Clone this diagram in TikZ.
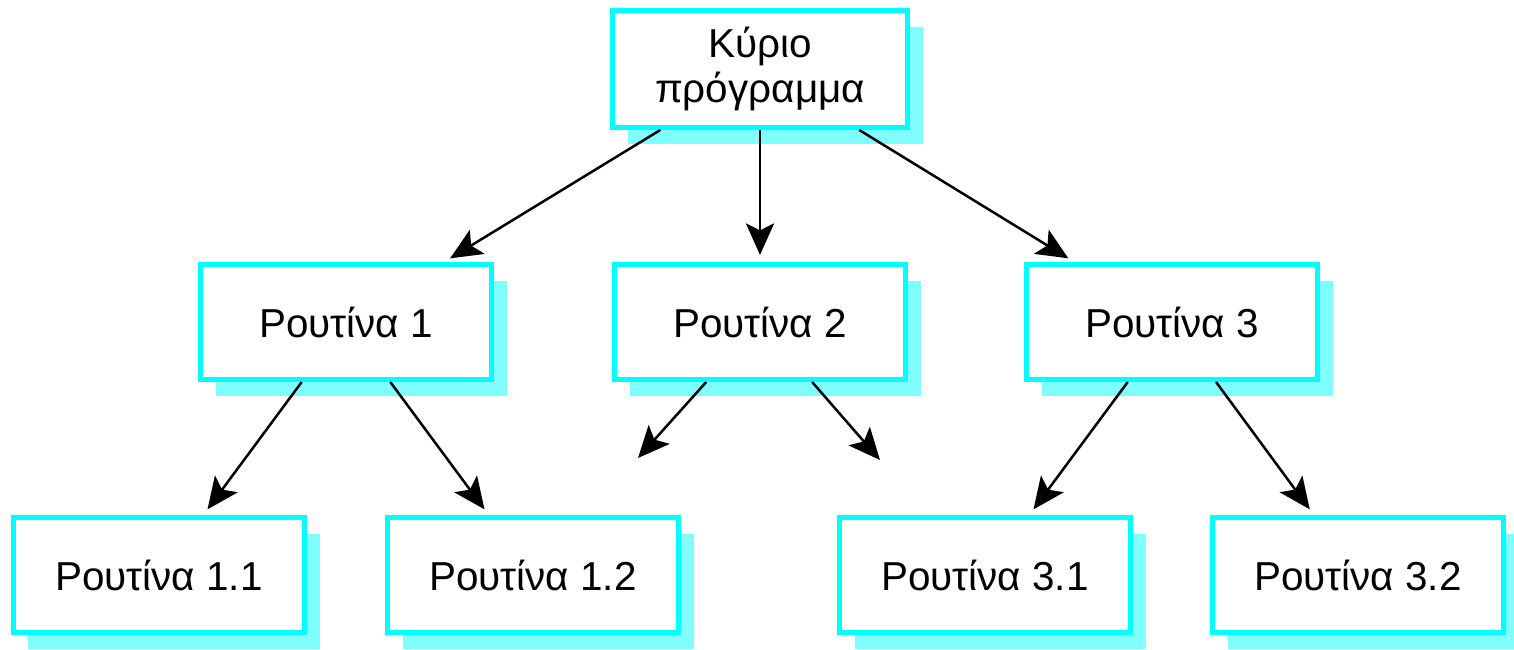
\documentclass[tikz,border=0pt]{standalone}
\usepackage{fontspec}
\setmainfont{Liberation Sans}
\usetikzlibrary{shadows,arrows.meta}

\definecolor{boxcyan}{RGB}{0,255,255}
\definecolor{shadecyan}{RGB}{128,255,255}

\tikzset{
    routine/.style={draw=boxcyan, line width=0.1cm, fill=white, minimum width=5.82cm,
        minimum height=2.3cm, align=center, font=\fontsize{23}{26}\selectfont,
        drop shadow={shadow xshift=0.3cm, shadow yshift=-0.32cm, fill=shadecyan, opacity=1}},
    call/.style={-{Stealth[length=18pt, width=16pt, inset=4pt]}, line width=0.05cm, shorten >=0.14cm}
}

\begin{document}
\begin{tikzpicture}
            \useasboundingbox (0,0) rectangle (30.28,-12.98);

            % κύριο πρόγραμμα
            \node[routine, minimum width=5.9cm, minimum height=2.34cm] (main) at (15.2,-1.38) {Κύριο\\πρόγραμμα};

            % πρώτο επίπεδο
            \node[routine] (r1) at (6.92,-6.44) {Ρουτίνα 1};
            \node[routine] (r2) at (15.2,-6.44) {Ρουτίνα 2};
            \node[routine] (r3) at (23.44,-6.44) {Ρουτίνα 3};

            % δεύτερο επίπεδο
            \node[routine] (r11) at (3.18,-11.5) {Ρουτίνα 1.1};
            \node[routine] (r12) at (10.66,-11.5) {Ρουτίνα 1.2};
            \node[routine] (r31) at (19.7,-11.5) {Ρουτίνα 3.1};
            \node[routine] (r32) at (27.16,-11.5) {Ρουτίνα 3.2};

            % ελεύθερα άκρα κάτω από τη ρουτίνα 2
            \coordinate (r2l) at (12.76,-9.16);
            \coordinate (r2r) at (17.6,-9.2);

            % κλήσεις
            \draw[call] (main) -- (r1);
            \draw[call] (main) -- (r2);
            \draw[call] (main) -- (r3);
            \draw[call] (r1) -- (r11);
            \draw[call] (r1) -- (r12);
            \draw[call, shorten >=0pt] (r2) -- (r2l);
            \draw[call, shorten >=0pt] (r2) -- (r2r);
            \draw[call] (r3) -- (r31);
            \draw[call] (r3) -- (r32);
        \end{tikzpicture}
\end{document}
